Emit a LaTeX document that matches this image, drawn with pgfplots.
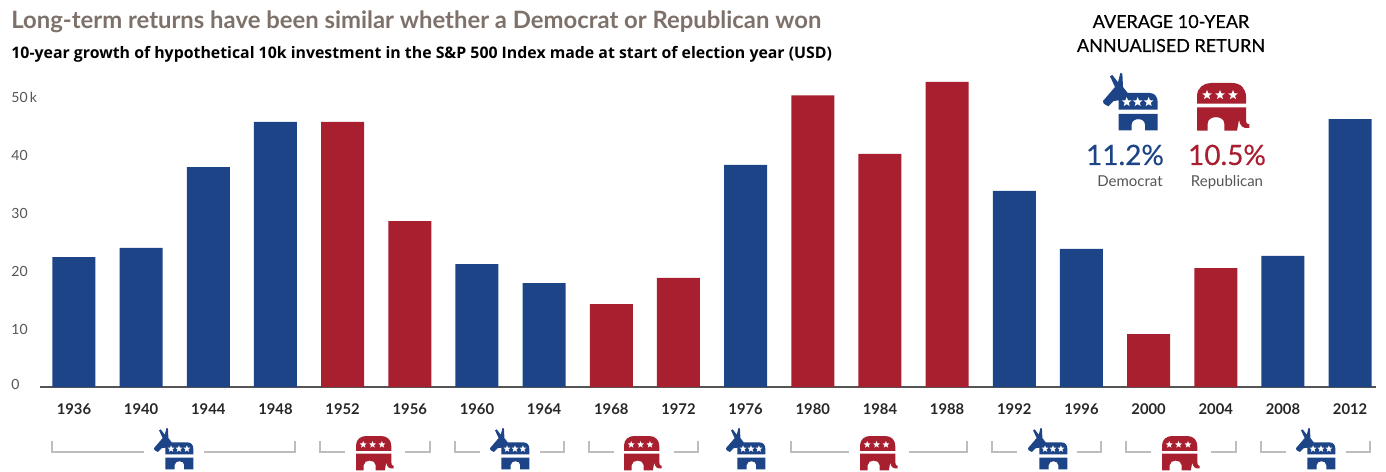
\documentclass[border=0pt]{standalone}
\usepackage{fontspec}
\usepackage{pgfplots}
\usepackage{pgfplotstable}
\pgfplotsset{compat=1.18}
\usetikzlibrary{shapes.geometric}
\setmainfont{Lato}
\newfontfamily\opensans{Open Sans}
\newfontfamily\latomed[FakeBold=0.35]{Lato}
\definecolor{dem}{HTML}{1C4487}
\definecolor{rep}{HTML}{A81F2F}
\definecolor{titlegrey}{HTML}{7D716A}
\definecolor{bracketgrey}{HTML}{BDBDBD}
\definecolor{labelgrey}{HTML}{555555}

\pgfplotstableread{
idx val
0 22.4
1 24.0
2 37.9
3 45.7
6 21.2
7 17.9
10 38.3
14 33.8
15 23.8
18 22.6
19 46.2
}\demdata
\pgfplotstableread{
idx val
4 45.7
5 28.6
8 14.3
9 18.8
11 50.3
12 40.2
13 52.6
16 9.1
17 20.5
}\repdata

% icons drawn in zoomed-crop pixels, origin at top left of the icon
\newcommand{\stars}[4]{%
  \foreach \sx in {#1}
    \node[star,star points=5,star point ratio=2.3,fill=white,inner sep=0pt,minimum size=#4*5pt] at (\sx,#2) {};
}
\newcommand{\donkey}[3]{%
  \begin{scope}[shift={(#1,#2)},scale=#3/3]
    \fill[dem] (21,10) -- (28,6) -- (45,28) -- (52,0) -- (58,2) -- (60,42) -- (74,60) -- (140,60)
      .. controls (156,60) and (164,72) .. (164,88) -- (164,110) -- (47,110) -- (47,82)
      -- (32,84) -- (16,100) -- (2,92) -- (0,84) -- (36,42) -- cycle;
    \fill[dem] (47,123) -- (164,123) -- (164,172) -- (126,172) -- (126,155)
      .. controls (126,133) and (86,133) .. (86,155) -- (86,172) -- (47,172) -- cycle;
    \stars{71,104,137}{87}{}{#3}
  \end{scope}%
}
\newcommand{\elephant}[3]{%
  \begin{scope}[shift={(#1,#2)},scale=#3/3]
    \fill[rep] (0,62) -- (0,40) .. controls (0,14) and (20,0) .. (42,0) -- (105,0)
      .. controls (132,0) and (147,18) .. (147,42) -- (147,62) -- cycle;
    \fill[rep] (0,73) -- (147,73) -- (147,108) .. controls (147,120) and (150,126) .. (157,124)
      -- (157,135) .. controls (138,138) and (128,128) .. (126,110) -- (120,143) -- (82,143) -- (82,122)
      .. controls (82,96) and (32,96) .. (32,122) -- (32,143) -- (0,143) -- cycle;
    \stars{30,69,108}{36}{}{#3}
  \end{scope}%
}
% bracket from #1 to #2 in image pixels, gap of 60 px round the icon
\newcommand{\bracket}[2]{%
  \pgfmathsetmacro{\mid}{(#1+#2)/2}
  \draw[bracketgrey,line width=0.6pt] (#1,441) -- (#1,452) -- ({\mid-30},452);
  \draw[bracketgrey,line width=0.6pt] ({\mid+30},452) -- (#2,452) -- (#2,441);
}

\begin{document}
\begin{tikzpicture}
  % whole picture is 1386x471 image pixels, 1 px = 0.5pt, axis origin at px (40,387)
  \begin{scope}[x=0.5pt,y=-0.5pt,shift={(-40,-387)}]
    \path[use as bounding box] (0,0) rectangle (1386,471);
  \end{scope}
  \begin{axis}[
      scale only axis,
      width=668pt, height=159.5pt,
      xmin=-0.506, xmax=19.386,
      ymin=0, ymax=55,
      axis x line=bottom, axis y line=left,
      axis line style={-},
      x axis line style={draw=labelgrey,line width=0.6pt},
      y axis line style={draw=none},
      major tick length=0pt,
      ybar, bar width=21.5pt,
      xtick={0,...,19},
      xticklabels={1936,1940,1944,1948,1952,1956,1960,1964,1968,1972,1976,1980,1984,1988,1992,1996,2000,2004,2008,2012},
      xticklabel style={font=\fontsize{7.4}{9}\selectfont\bfseries,text=black!85,anchor=base,yshift=-13.8pt},
      ytick={0,10,20,30,40,50},
      yticklabels={\raisebox{1.5pt}{0},10,20,30,40,{50\,k}},
      yticklabel style={font=\fontsize{7}{9}\selectfont,text=labelgrey,anchor=base west,xshift=-14.5pt,yshift=-2.5pt,inner sep=0pt},
      /pgf/number format/assume math mode=true,
    ]
    \addplot[fill=dem,draw=none,bar shift=0pt] table[x=idx,y=val] {\demdata};
    \addplot[fill=rep,draw=none,bar shift=0pt] table[x=idx,y=val] {\repdata};
  \end{axis}
  \begin{scope}[x=0.5pt,y=-0.5pt,shift={(-40,-387)}]
    \node[anchor=base west,inner sep=0pt,text=titlegrey,font=\fontsize{11.93}{14}\selectfont\bfseries] at (11,29)
      {Long-term returns have been similar whether a Democrat or Republican won};
    \node[anchor=base west,inner sep=0pt,text=black,font=\opensans\fontsize{7.93}{10}\selectfont\bfseries] at (11,59)
      {10-year growth of hypothetical 10k investment in the S\&P 500 Index made at start of election year (USD)};
    \node[anchor=base,inner sep=0pt,font=\latomed\fontsize{9}{11}\selectfont] at (1171,28) {AVERAGE 10-YEAR};
    \node[anchor=base,inner sep=0pt,font=\latomed\fontsize{9}{11}\selectfont] at (1171,52) {ANNUALISED RETURN};
    \node[anchor=base,inner sep=0pt,text=dem,font=\latomed\fontsize{14}{16}\selectfont] at (1125,165) {11.2\%};
    \node[anchor=base,inner sep=0pt,text=rep,font=\latomed\fontsize{14}{16}\selectfont] at (1227,165) {10.5\%};
    \node[anchor=base,inner sep=0pt,text=labelgrey,font=\fontsize{7.5}{9}\selectfont] at (1130,187) {Democrat};
    \node[anchor=base,inner sep=0pt,text=labelgrey,font=\fontsize{7.5}{9}\selectfont] at (1227,187) {Republican};
    \donkey{1103}{73}{1}
    \elephant{1197}{83}{1}
    \bracket{52}{295}
    \bracket{320}{430}
    \bracket{455}{564}
    \bracket{589}{698}
    \bracket{791}{967}
    \bracket{992}{1101}
    \bracket{1126}{1236}
    \bracket{1261}{1370}
    \donkey{154}{428}{0.72}
    \elephant{356}{436}{0.72}
    \donkey{490}{428}{0.72}
    \elephant{624}{436}{0.72}
    \donkey{726}{428}{0.72}
    \elephant{860}{436}{0.72}
    \donkey{1028}{428}{0.72}
    \elephant{1162}{436}{0.72}
    \donkey{1296}{428}{0.72}
  \end{scope}
\end{tikzpicture}
\end{document}
